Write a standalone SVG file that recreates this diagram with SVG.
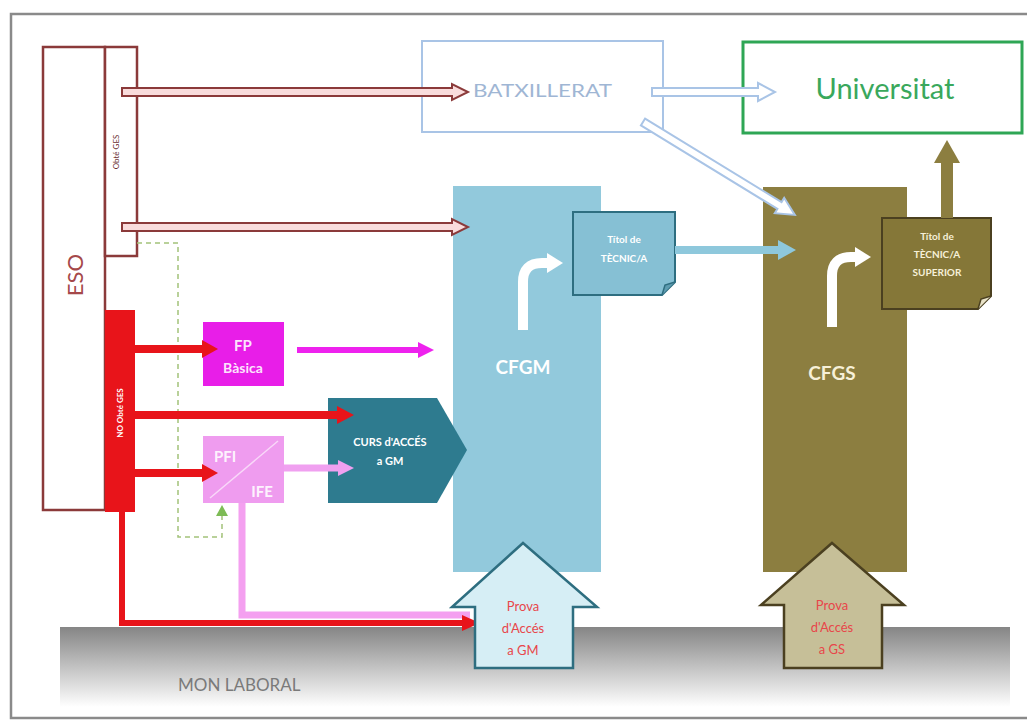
<svg xmlns="http://www.w3.org/2000/svg" width="1027" height="724" viewBox="0 0 1027 724">
<defs>
<linearGradient id="band" x1="0" y1="0" x2="0" y2="1">
<stop offset="0" stop-color="#858585"/>
<stop offset="0.55" stop-color="#c8c8c8"/>
<stop offset="1" stop-color="#ffffff"/>
</linearGradient>
<style>
text{font-family:Lato,"Open Sans","Liberation Sans",sans-serif}
.w{fill:#ffffff;font-weight:bold;text-anchor:middle}
.red{fill:#e8141a;stroke:none}
.prova{fill:#e8464a;font-size:13px;text-anchor:middle}
.hollowR{fill:#f9dcdc;stroke:#8b3a3a;stroke-width:2}
.hollowB{fill:#ffffff;stroke:#a9c4e6;stroke-width:2}
</style>
</defs>
<rect x="0" y="0" width="1027" height="724" fill="#ffffff"/>
<rect x="11" y="14" width="1030" height="704" fill="none" stroke="#8a8a8a" stroke-width="2.5"/>

<g id="mon-laboral">
<rect x="60" y="627" width="950" height="80" fill="url(#band)"/>
<text x="178" y="691" font-size="17" fill="#7a7a7a">MON LABORAL</text>
</g>

<g id="eso">
<rect x="43" y="47" width="62" height="463" fill="#ffffff" stroke="#8b3a3a" stroke-width="2.5"/>
<text x="0" y="0" font-size="22" fill="#a5484a" text-anchor="middle" transform="translate(83,275) rotate(-90)">ESO</text>
</g>
<g id="obte-ges">
<rect x="105" y="47" width="32" height="209" fill="#ffffff" stroke="#8b3a3a" stroke-width="2.5"/>
<text x="0" y="0" font-size="8" fill="#6a3030" text-anchor="middle" transform="translate(119,152) rotate(-90)">Obté GES</text>
</g>
<g id="no-obte-ges">
<rect x="105" y="310" width="30" height="202" fill="#e8141a"/>
<text x="0" y="0" font-size="8" class="w" transform="translate(123,413) rotate(-90)">NO Obté GES</text>
</g>

<g id="batxillerat">
<rect x="422" y="41" width="241" height="91" fill="#ffffff" stroke="#a9c4e6" stroke-width="2"/>
<text x="473" y="97" font-size="17" fill="#9fb6d4" textLength="139" lengthAdjust="spacingAndGlyphs">BATXILLERAT</text>
</g>
<g id="universitat">
<rect x="743" y="42" width="279" height="91" fill="#ffffff" stroke="#2ea655" stroke-width="3"/>
<text x="885" y="99" font-size="29" fill="#3aa85c" text-anchor="middle">Universitat</text>
</g>

<g id="cfgm">
<rect x="453" y="186" width="148" height="386" fill="#92c9dc"/>
<path d="M523,330 V282 Q523,263 542,263 H548" fill="none" stroke="#ffffff" stroke-width="10"/>
<polygon points="547,253 563,263 547,273" fill="#ffffff"/>
<text x="523" y="374" font-size="19" class="w">CFGM</text>
</g>
<g id="titol-tecnic">
<path d="M573,212 H675 V282 L662,295 H573 Z" fill="#86c0d4" stroke="#2e6e80" stroke-width="2"/>
<path d="M662,295 L665,285 L675,282" fill="#5e9cb0" stroke="#2e6e80" stroke-width="1.5"/>
<text x="624" y="243" font-size="10" class="w">Títol de</text>
<text x="624" y="262" font-size="10" class="w">TÈCNIC/A</text>
</g>

<g id="cfgs">
<rect x="763" y="187" width="144" height="385" fill="#8c7e40"/>
<path d="M832,327 V276 Q832,257 851,257 H856" fill="none" stroke="#ffffff" stroke-width="10"/>
<polygon points="855,247 871,257 855,267" fill="#ffffff"/>
<text x="832" y="380" font-size="19" fill="#f6f0d8" font-weight="bold" text-anchor="middle">CFGS</text>
</g>
<g id="titol-superior">
<path d="M882,218 H991 V296 L978,309 H882 Z" fill="#857738" stroke="#4b4020" stroke-width="2"/>
<path d="M978,309 L981,299 L991,296" fill="#e8e2c8" stroke="#4b4020" stroke-width="1.5"/>
<text x="937" y="240" font-size="10" fill="#f6f0d8" font-weight="bold" text-anchor="middle">Títol de</text>
<text x="937" y="258" font-size="10" fill="#f6f0d8" font-weight="bold" text-anchor="middle">TÈCNIC/A</text>
<text x="937" y="276" font-size="10" fill="#f6f0d8" font-weight="bold" text-anchor="middle">SUPERIOR</text>
</g>

<g id="fp-basica">
<rect x="203" y="322" width="81" height="64" fill="#e81ee8"/>
<text x="243" y="351" font-size="15" class="w" fill-opacity="0.9">FP</text>
<text x="243" y="373" font-size="14" class="w" fill-opacity="0.9">Bàsica</text>
</g>
<g id="pfi-ife">
<rect x="203" y="436" width="81" height="67" fill="#ef9cef"/>
<line x1="210" y1="498" x2="278" y2="441" stroke="#ffffff" stroke-opacity="0.6" stroke-width="1.5"/>
<text x="225" y="462" font-size="15" class="w" fill-opacity="0.9">PFI</text>
<text x="262" y="497" font-size="15" class="w" fill-opacity="0.9">IFE</text>
</g>
<g id="curs-acces">
<polygon points="328,398 437,398 467,450 437,503 328,503" fill="#2e7b8f"/>
<text x="390" y="446" font-size="11" class="w">CURS d'ACCÉS</text>
<text x="390" y="465" font-size="11" class="w">a GM</text>
</g>

<g id="connectors">
<polygon class="hollowR" points="122,88 452,88 452,84 468,92 452,100 452,96 122,96"/>
<polygon class="hollowR" points="122,223 452,223 452,219 468,227 452,235 452,231 122,231"/>
<polygon class="hollowB" points="652,88 758,88 758,83 775,92 758,101 758,96 652,96"/>
<polygon class="hollowB" transform="translate(643,122) rotate(31.46)" points="0,-4 160,-4 160,-9 178,0 160,9 160,4 0,4"/>
<line x1="675" y1="250" x2="780" y2="250" stroke="#8ec8dc" stroke-width="8"/>
<polygon points="778,240 796,250 778,260" fill="#8ec8dc"/>
<rect x="941" y="160" width="12" height="58" fill="#8c7e40"/>
<polygon points="934,163 947,140 960,163" fill="#8c7e40"/>
<path d="M137,243 H178 V537 H222 V516" fill="none" stroke="#a3c27a" stroke-width="1.5" stroke-dasharray="5,4"/>
<polygon points="216,516 222,505 228,516" fill="#7dbb55"/>
<line x1="135" y1="349" x2="205" y2="349" stroke="#e8141a" stroke-width="8"/>
<polygon class="red" points="202,340 218,349 202,358"/>
<line x1="135" y1="415" x2="340" y2="415" stroke="#e8141a" stroke-width="8"/>
<polygon class="red" points="337,406 354,415 337,424"/>
<line x1="135" y1="473" x2="205" y2="473" stroke="#e8141a" stroke-width="8"/>
<polygon class="red" points="202,464 218,473 202,482"/>
<path d="M242,503 V615 H470" fill="none" stroke="#f4a0f0" stroke-width="7"/>
<path d="M122,512 V623 H465" fill="none" stroke="#e8141a" stroke-width="6"/>
<polygon class="red" points="462,615 480,623 462,631"/>
<line x1="297" y1="350" x2="420" y2="350" stroke="#ee22ee" stroke-width="6"/>
<polygon points="418,342 434,350 418,358" fill="#ee22ee"/>
<line x1="284" y1="468" x2="340" y2="468" stroke="#f0a0f0" stroke-width="7"/>
<polygon points="338,460 354,468 338,476" fill="#f0a0f0"/>
</g>

<g id="prova-gm">
<polygon points="523,543 597,607 573,607 573,668 475,668 475,607 452,607" fill="#d6eef5" stroke="#2e6e80" stroke-width="2.5"/>
<text x="523" y="611" class="prova">Prova</text>
<text x="523" y="633" class="prova">d'Accés</text>
<text x="523" y="655" class="prova">a GM</text>
</g>
<g id="prova-gs">
<polygon points="832,543 904,605 882,605 882,668 784,668 784,605 761,605" fill="#c6bf98" stroke="#4b4020" stroke-width="2.5"/>
<text x="832" y="610" class="prova">Prova</text>
<text x="832" y="632" class="prova">d'Accés</text>
<text x="832" y="654" class="prova">a GS</text>
</g>
</svg>
